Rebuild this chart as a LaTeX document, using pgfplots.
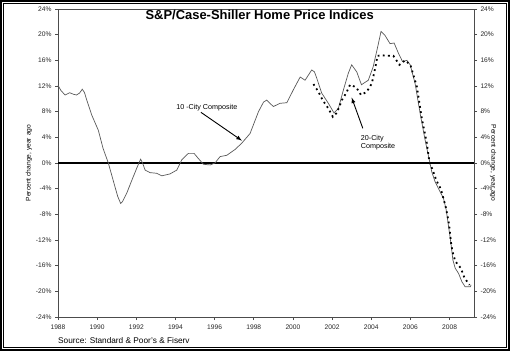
\documentclass[border=0pt]{standalone}
\usepackage{fontspec}
\setmainfont{Liberation Sans}
\usepackage{pgfplots}
\pgfplotsset{compat=1.18}
\begin{document}
\begin{tikzpicture}[x=1bp,y=1bp]
\useasboundingbox (-58,-34) rectangle (452,317);
\draw[line width=1.6bp] (-57.2,-33.2) rectangle (451.2,316.2);
\draw[line width=0.5bp] (-54.5,-30.5) rectangle (448.5,313.5);
\begin{axis}[
  at={(0,0)}, anchor=south west,
  scale only axis, width=416bp, height=308bp,
  xmin=1988, xmax=2009.25, ymin=-24, ymax=24,
  xtick={1988,1990,...,2008},
  ytick={-24,-20,...,24},
  yticklabel={\pgfmathprintnumber{\tick}\%},
  /pgf/number format/1000 sep={},
  /pgf/number format/assume math mode=true,
  tick align=outside, tick pos=left,
  major tick length=3bp,
  axis line style={black!70, line width=0.8bp},
  tick style={black!70, line width=0.6bp},
  ticklabel style={font=\fontsize{6.7}{7}\selectfont, text=black!85},
  xticklabel style={yshift=-1bp},
  ylabel={Percent change, year ago},
  ylabel style={font=\fontsize{6.7}{7}\selectfont, at={(axis description cs:-0.07,0.5)}, anchor=center},
  clip=false,
]
\draw[black, line width=1.2bp] (axis cs:1988,0) -- (axis cs:2009.25,0);
\addplot[black!65, line width=0.7bp] coordinates {
(1988.00,12.1) (1988.15,11.3) (1988.36,10.6) (1988.6,10.95) (1988.8,10.7) (1988.95,10.6)
(1989.1,10.9) (1989.24,11.5) (1989.35,11.0) (1989.47,9.8) (1989.72,7.5) (1990.06,5.1)
(1990.3,2.3) (1990.57,0) (1990.91,-3.7) (1991.05,-5.2) (1991.2,-6.3) (1991.3,-6.0)
(1991.51,-4.7) (1991.85,-2.1) (1992.05,-0.6) (1992.22,0.6) (1992.32,0.0) (1992.45,-1.1)
(1992.7,-1.5) (1993.04,-1.6) (1993.3,-2.0) (1993.72,-1.7) (1994.07,-1.1) (1994.32,0.5)
(1994.66,1.5) (1994.95,1.5) (1995.17,0.7) (1995.43,-0.2) (1995.77,-0.3) (1996.02,0)
(1996.28,1.0) (1996.62,1.2) (1997.04,2.1) (1997.39,3.1) (1997.81,4.6) (1998.24,8.0)
(1998.5,9.5) (1998.66,9.8) (1999.0,8.8) (1999.34,9.3) (1999.69,9.4) (2000.02,11.4)
(2000.37,13.4) (2000.62,12.9) (2000.96,14.5) (2001.1,14.2) (2001.22,13.2) (2001.47,10.9)
(2001.81,9.3) (2002.1,7.8) (2002.32,8.5) (2002.58,11.4) (2002.83,14.0) (2003.0,15.3)
(2003.26,14.2) (2003.5,12.2) (2003.85,12.9) (2004.1,15.0) (2004.33,18.1) (2004.5,20.5)
(2004.7,19.9) (2004.96,18.6) (2005.17,18.7) (2005.39,17.1) (2005.6,15.8) (2005.82,16.0)
(2005.99,15.3) (2006.24,12.4) (2006.5,7.7) (2006.75,3.6) (2007.0,0) (2007.09,-1.35)
(2007.26,-2.9) (2007.52,-4.5) (2007.69,-5.5) (2007.83,-7.3) (2007.95,-9.9) (2008.07,-12.5)
(2008.17,-15.1) (2008.29,-16.4) (2008.46,-17.2) (2008.63,-18.5) (2008.8,-19.3) (2009.06,-19.3)
(2009.1,-19.0)
};
\addplot[black, line width=1.8bp, dash pattern=on 1.8bp off 3.4bp] coordinates {
(2001.05,12.3) (2001.3,11.1) (2001.52,9.8) (2001.81,8.5) (2002.04,7.2) (2002.24,7.8)
(2002.5,9.8) (2002.72,10.9) (2002.92,12.2) (2003.23,11.8) (2003.48,10.6) (2003.77,11.1)
(2004.03,12.4) (2004.2,14.75) (2004.32,16.7) (2004.54,16.8) (2004.8,16.7) (2005.13,16.7)
(2005.44,15.3) (2005.73,16.0) (2006.0,15.3) (2006.33,11.9) (2006.58,7.0) (2006.84,3.1)
(2006.97,0.2) (2007.15,-1.2) (2007.32,-2.65) (2007.56,-4.1) (2007.8,-6.8) (2007.9,-8.3)
(2007.98,-9.7) (2008.08,-12.5) (2008.15,-13.8) (2008.29,-15.3) (2008.58,-16.4) (2008.76,-17.9)
(2009.02,-19.0)
};
\node[font=\fontsize{7.2}{8}\selectfont] at (axis cs:1995.6,8.6) {10 -City Composite};
\draw[-latex, line width=0.9bp] (axis cs:1995.3,7.9) -- (axis cs:1997.39,3.5);
\node[font=\fontsize{7.2}{8.2}\selectfont, align=left] at (axis cs:2004.35,3.2) {20-City\\Composite};
\draw[-latex, line width=0.9bp] (axis cs:2003.57,5.4) -- (axis cs:2003.0,10.2);
\node[font=\bfseries\fontsize{13}{14}\selectfont] at (axis cs:1998.3,23.0) {S\&P/Case-Shiller Home Price Indices};
\node[font=\fontsize{8.3}{9}\selectfont, anchor=west, inner sep=0pt] at (axis description cs:0,-0.075) {Source: Standard \& Poor's \& Fiserv};
\end{axis}
\begin{axis}[
  at={(0,0)}, anchor=south west,
  scale only axis, width=416bp, height=308bp,
  xmin=1988, xmax=2009.25, ymin=-24, ymax=24,
  axis x line=none, axis y line*=right,
  ytick={-24,-20,...,24},
  yticklabel={\pgfmathprintnumber{\tick}\%},
  /pgf/number format/assume math mode=true,
  tick align=outside,
  major tick length=3bp,
  axis line style={black!70, line width=0.8bp},
  tick style={black!70, line width=0.6bp},
  ticklabel style={font=\fontsize{6.7}{7}\selectfont, text=black!85},
  ylabel={Percent change, year ago},
  ylabel style={font=\fontsize{6.7}{7}\selectfont, at={(axis description cs:1.046,0.5)}, anchor=center, rotate=180},
]
\end{axis}
\end{tikzpicture}
\end{document}
